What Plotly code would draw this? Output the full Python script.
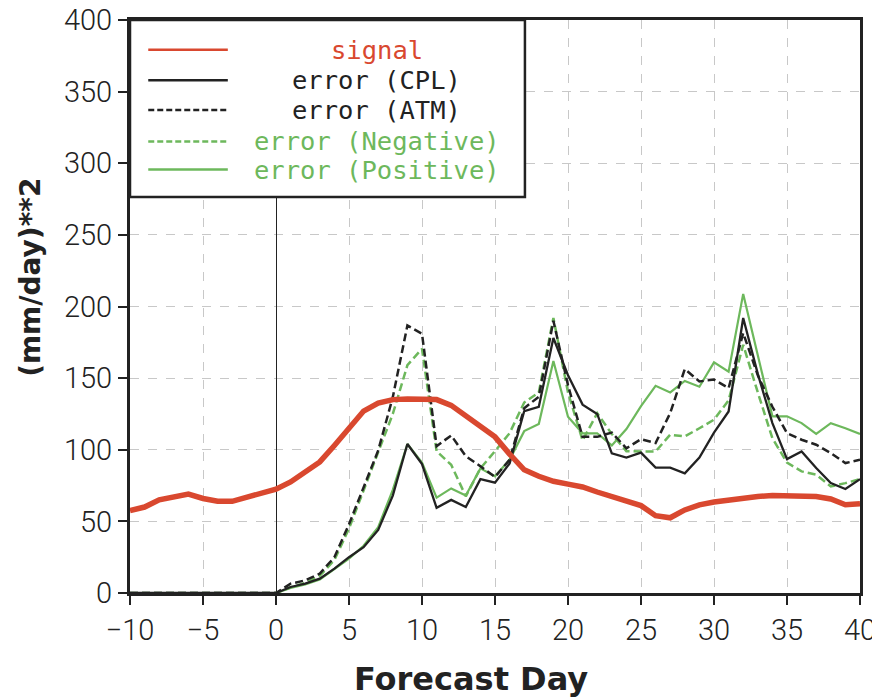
import plotly.graph_objects as go

days = list(range(-10, 41))

signal = [57.6, 60, 65, 67, 69, 66, 64, 64, 67, 70,
          72.5, 77.5, 84.5, 91.5, 103, 115.5, 127, 132.5, 135, 135.5,
          135.5, 135, 131, 124, 116, 109, 97, 86, 81.5, 78,
          76, 74, 70.5, 67, 63.5, 61, 54, 52.5, 58, 61.5,
          63.5, 65, 66.3, 67.4, 68, 68, 68, 67.4, 65.6, 61.6, 62.3]

zeros = [0] * 10

err_cpl = zeros + [0, 4.2, 6.5, 10, 17, 25, 32, 44, 68, 104,
                   90, 59.5, 65, 60, 79.5, 77, 90.5, 127, 130, 178,
                   152, 131.5, 125, 97.5, 94.5, 98, 87.5, 87.5, 83.5, 94.5,
                   112, 126.7, 192, 153, 118.6, 93.5, 98.8, 87.2, 76.7, 72.6, 79.5]

err_atm = zeros + [0, 6.5, 8.8, 13.5, 25, 48, 74, 99.5, 136.7, 186.7,
                   181, 102.5, 110, 95.5, 88.5, 81, 93, 129, 137, 190,
                   145, 109, 109, 112, 101, 107.4, 104.7, 125.6, 156.3, 147.7,
                   149, 143, 181.4, 152, 130, 111.6, 107, 103.5, 97.7, 90.7, 93]

err_neg = zeros + [0, 4, 7, 12, 23, 45, 72, 98, 125, 159,
                   170.5, 99, 89.5, 67.5, 87, 99, 111.6, 133, 140, 192,
                   140, 106.5, 125.5, 111, 99, 98.8, 98.8, 110.5, 109.3, 115,
                   121, 134.5, 173.3, 140, 108, 91, 84.9, 82.6, 74.4, 76.7, 79.5]

err_pos = zeros + [0, 3.5, 6, 9.5, 17, 24, 33, 46, 72, 104,
                   91, 66.5, 73, 68, 87, 81.5, 93, 113, 118, 162,
                   123, 111.5, 111.5, 103, 114.5, 130.5, 144.6, 140, 148, 144,
                   161, 154.5, 208.8, 165, 123.3, 123.3, 118.6, 111, 118.6, 115, 111]

x_ticks = list(range(-10, 41, 5))
y_ticks = list(range(0, 401, 50))

names = ["signal", "error (CPL)", "error (ATM)", "error (Negative)", "error (Positive)"]
RED = "#d9482f"
BLACK = "#222222"
GREEN = "#6db85c"

fig = go.Figure()
fig.add_trace(go.Scatter(x=days, y=err_pos, mode="lines", name=names[4],
                         line=dict(color=GREEN, width=2.2)))
fig.add_trace(go.Scatter(x=days, y=err_neg, mode="lines", name=names[3],
                         line=dict(color=GREEN, width=2.5, dash="8px,4px")))
fig.add_trace(go.Scatter(x=days, y=err_atm, mode="lines", name=names[2],
                         line=dict(color=BLACK, width=2.5, dash="8px,4px")))
fig.add_trace(go.Scatter(x=days, y=err_cpl, mode="lines", name=names[1],
                         line=dict(color=BLACK, width=2.3)))
fig.add_trace(go.Scatter(x=days, y=signal, mode="lines", name=names[0],
                         line=dict(color=RED, width=5.5)))

tick_font = dict(family="Roboto, sans-serif", size=29, color="#222222", weight=300)

fig.update_xaxes(range=[-10, 40], tickvals=x_ticks, ticks="outside", ticklen=9, tickwidth=2,
                 tickcolor="#222", showline=True, mirror=True, linewidth=3, linecolor="#222",
                 showgrid=True, gridcolor="#c8c8c8", griddash="dash", gridwidth=1,
                 zeroline=True, zerolinecolor="#222", zerolinewidth=1,
                 tickfont=tick_font, automargin=False, ticklabeloverflow="allow")
fig.update_yaxes(range=[0, 400], tickvals=y_ticks, ticks="outside", ticklen=9, tickwidth=2,
                 tickcolor="#222", showline=True, mirror=True, linewidth=3, linecolor="#222",
                 showgrid=True, gridcolor="#c8c8c8", griddash="dash", gridwidth=1,
                 zeroline=False, tickfont=tick_font, automargin=False, ticklabeloverflow="allow")

# custom legend box
shapes = [dict(type="rect", xref="paper", yref="paper", x0=0, x1=0.541, y0=0.691, y1=1,
               fillcolor="white", line=dict(color="#222", width=2.5), layer="above")]
legend_rows = [0.948, 0.895, 0.843, 0.788, 0.739]
legend_styles = [(RED, "solid", 2.5), (BLACK, "solid", 2.5), (BLACK, "6px,3px", 2.5),
                 (GREEN, "6px,3px", 2.5), (GREEN, "solid", 2.5)]
text_colors = [RED, BLACK, BLACK, GREEN, GREEN]
annotations = []
for name, yy, (c, d, w), tc in zip(names, legend_rows, legend_styles, text_colors):
    shapes.append(dict(type="line", xref="paper", yref="paper", x0=0.025, x1=0.134,
                       y0=yy, y1=yy, line=dict(color=c, width=w, dash=d), layer="above"))
    annotations.append(dict(xref="paper", yref="paper", x=0.338, y=yy, text=name,
                            showarrow=False, xanchor="center", yanchor="middle",
                            font=dict(family="DejaVu Sans Mono, monospace", size=25.5, color=tc)))

annotations.append(dict(xref="paper", yref="paper", x=(471 - 130) / 730, y=(593.3 - 679) / 573.3,
                        text="<b>Forecast Day</b>", showarrow=False, xanchor="center", yanchor="middle",
                        font=dict(family="DejaVu Sans, sans-serif", size=32, color="#222")))
annotations.append(dict(xref="paper", yref="paper", x=(31 - 130) / 730, y=(593.3 - 278) / 573.3,
                        text="<b>(mm/day)**2</b>", showarrow=False, textangle=-90,
                        xanchor="center", yanchor="middle",
                        font=dict(family="DejaVu Sans, sans-serif", size=28, color="#222")))

fig.update_layout(width=880, height=700, margin=dict(l=122, r=28, t=12, b=115, autoexpand=False),
                  plot_bgcolor="white", paper_bgcolor="white", showlegend=False,
                  shapes=shapes, annotations=annotations)

fig.write_html("out.html")
